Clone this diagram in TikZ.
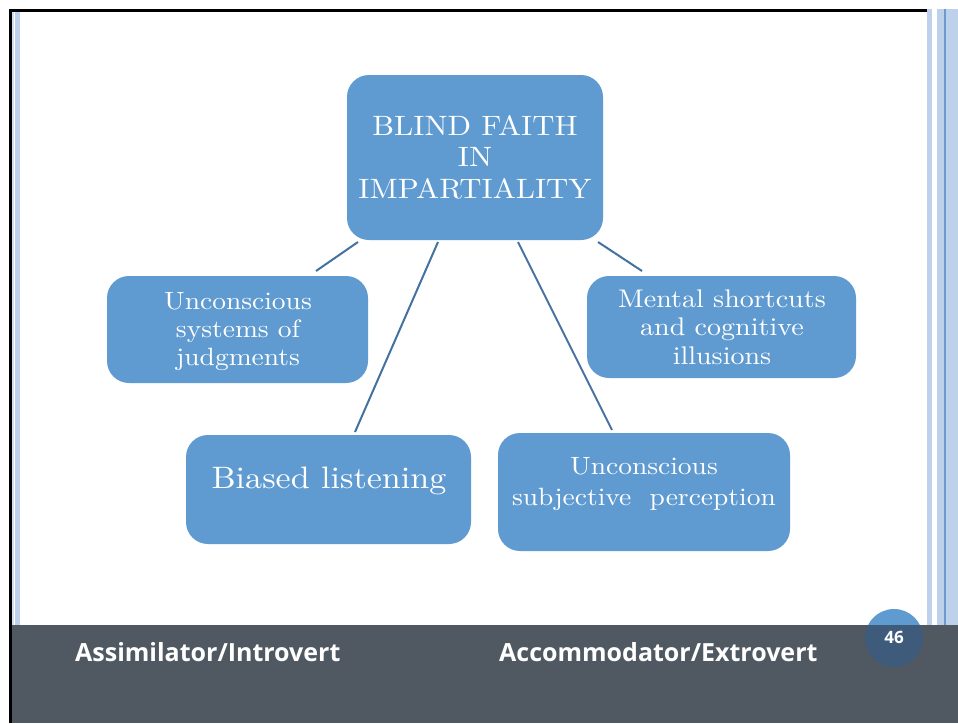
\documentclass[tikz,border=0pt]{standalone}
\usepackage{fontspec}
\newfontfamily\barfont{Open Sans}
\newfontfamily\boxfont[FakeStretch=1.1]{lmroman10-regular.otf}
\begin{document}
\begin{tikzpicture}[x=1pt,y=-1pt,
  box/.style={fill=boxblue,rounded corners=22pt,text=white,align=center,inner sep=0pt},
  lbl/.style={text=white,align=center,inner sep=0pt},
  link/.style={draw=linkblue,line width=2pt},
  bartext/.style={text=white,font=\barfont\bfseries\fontsize{25}{28}\selectfont,anchor=base west,inner sep=0pt}]
\definecolor{boxblue}{HTML}{5F9BD0}
\definecolor{linkblue}{HTML}{45719F}
\definecolor{stripe}{HTML}{BED1EA}
\definecolor{stripedark}{HTML}{6A9AD0}
\definecolor{barcol}{HTML}{505962}
\definecolor{circdark}{HTML}{3E5B7B}
\useasboundingbox (0,0) rectangle (958,723);
\fill[white] (0,0) rectangle (958,723);
% frame
\draw[black,line width=3pt] (10.5,723) -- (10.5,10.5) -- (928,10.5);
\fill[stripe!70] (12,12) rectangle (14,723);
\fill[stripe] (15,12) rectangle (20,723);
% right stripes
\fill[stripe] (927,9) rectangle (932,723);
\fill[stripe] (937,9) rectangle (944,723);
\fill[stripedark] (944,9) rectangle (946,723);
\fill[stripe] (946,9) rectangle (958,723);
% boxes
\node[box,minimum width=256pt,minimum height=165pt] (top) at (475,157.5) {};
\node[lbl,font=\boxfont\fontsize{28}{31.5}\selectfont] (topl) at (475,157) {BLIND FAITH\\IN\\IMPARTIALITY};
\node[box,minimum width=261pt,minimum height=107pt] (ucs) at (237.5,329.5) {};
\node[lbl,font=\boxfont\fontsize{25}{28}\selectfont] (ucsl) at (238,332) {Unconscious\\systems of\\judgments};
\node[box,minimum width=269pt,minimum height=102pt] (ment) at (721.5,327) {};
\node[lbl,font=\boxfont\fontsize{25.5}{28.5}\selectfont] (mentl) at (722,327) {Mental shortcuts\\and cognitive\\illusions};
\node[box,minimum width=285pt,minimum height=109pt] (bias) at (328.5,489.5) {};
\node[lbl,font=\boxfont\fontsize{31}{34}\selectfont] (biasl) at (329,481) {Biased listening};
\node[box,minimum width=292pt,minimum height=118pt] (usp) at (644,492) {};
\node[lbl,font=\boxfont\fontsize{25}{31}\selectfont] (uspl) at (644,484) {Unconscious\\subjective\ \ perception};
% links
\coordinate (t1) at (358,242); \coordinate (t2) at (438,242);
\coordinate (t3) at (518,242); \coordinate (t4) at (598,242);
\coordinate (e1) at (316,271); \coordinate (e2) at (355,432);
\coordinate (e3) at (612,430); \coordinate (e4) at (642,271);
\draw[link] (t1) -- (e1);
\draw[link] (t2) -- (e2);
\draw[link] (t3) -- (e3);
\draw[link] (t4) -- (e4);
% page circle
\fill[boxblue] (894,638) circle (29);
% bottom bar
\fill[barcol] (12,625) rectangle (958,723);
\begin{scope}
\clip (12,625) rectangle (958,723);
\fill[circdark] (894,638) circle (29);
\end{scope}
\node[text=white,font=\barfont\bfseries\fontsize{17}{20}\selectfont] (pg) at (894,637) {46};
\node[bartext] (l) at (75,661) {Assimilator/Introvert};
\node[bartext] (r) at (499,661) {Accommodator/Extrovert};
\end{tikzpicture}
\end{document}
